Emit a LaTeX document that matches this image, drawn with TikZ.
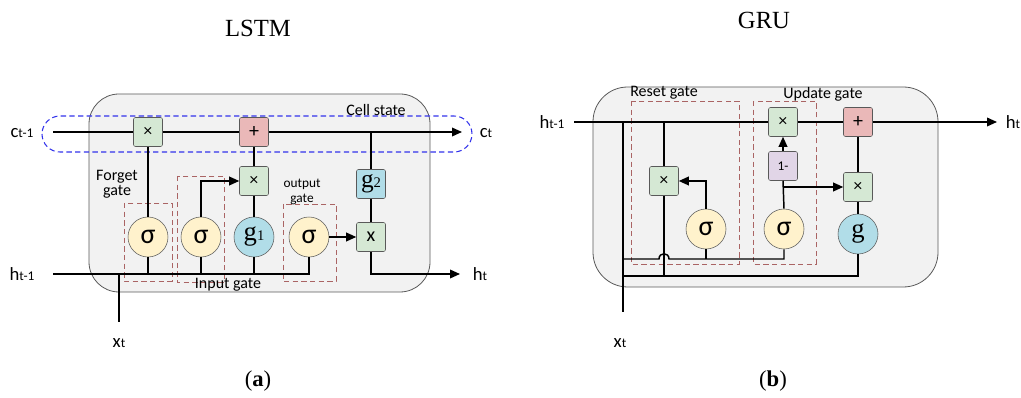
\documentclass[tikz,border=0pt]{standalone}
\usepackage{fontspec}
\setmainfont{Carlito}
\newfontfamily\seriffont{Liberation Serif}
\usepackage{xcolor}
\usepackage{tikz}
\usetikzlibrary{arrows.meta}

\definecolor{mulgreen}{RGB}{213,232,212}
\definecolor{addred}{RGB}{234,184,184}
\definecolor{actblue}{RGB}{177,221,232}
\definecolor{sigyellow}{RGB}{255,242,204}
\definecolor{negpurple}{RGB}{225,213,231}
\definecolor{cellgray}{RGB}{242,242,242}
\definecolor{gatebrown}{RGB}{170,100,100}
\definecolor{stateblue}{RGB}{50,50,235}

\newcommand{\iolbl}[2]{{\fontsize{14}{14}\selectfont #1}{\fontsize{10}{10}\selectfont #2}}

\begin{document}
\begin{tikzpicture}[x=0.75pt,y=0.75pt,yscale=-1,xscale=1,
  op/.style={draw=black!65, rounded corners=1.5pt, minimum size=21.75pt, inner sep=0pt, font=\fontsize{13}{13}\selectfont},
  mulop/.style={op, fill=mulgreen},
  addop/.style={op, fill=addred, font=\fontsize{15}{15}\selectfont},
  act/.style={circle, draw=black!65, minimum size=30pt, inner sep=0pt},
  sig/.style={act, fill=sigyellow, font=\fontsize{21}{21}\selectfont},
  tanhc/.style={act, fill=actblue, font=\seriffont\fontsize{20}{20}\selectfont},
  cellframe/.style={draw=black!65, fill=cellgray, line width=0.6pt},
  gatebox/.style={draw=gatebrown, dash pattern=on 4pt off 2.5pt, line width=0.65pt},
  flow/.style={line width=1.1pt},
  arr/.style={flow, -{Triangle[length=7.5pt,width=6.5pt]}},
  lbl/.style={inner sep=0pt, align=center, font=\fontsize{12}{11}\selectfont},
  title/.style={inner sep=0pt, font=\seriffont\fontsize{18.5}{20}\selectfont},
  caption/.style={inner sep=0pt, font=\seriffont\fontsize{17}{17}\selectfont}]

\useasboundingbox (0,0) rectangle (1021,398);

% ---------------- LSTM ----------------
\node[title] (lstm) at (258,28) {LSTM};

\draw[cellframe, rounded corners=22.5pt] (89,94) rectangle (430,292);
\draw[stateblue, dash pattern=on 4pt off 2.5pt, line width=0.8pt, rounded corners=13.5pt] (42,116) rectangle (472,152);
\draw[gatebox] (124,203) rectangle (172,281);
\draw[gatebox] (177,176) rectangle (224,282);
\draw[gatebox] (283,204) rectangle (336,281);

\node[lbl] (celllbl) at (376,110) {Cell state};
\node[lbl] (forgetlbl) at (117,184) {Forget\\gate};
\node[lbl, font=\fontsize{10}{11}\selectfont] (outlbl) at (302,192) {output\\gate};
\node[lbl] (inlbl) at (228,285) {Input gate};

\node[mulop] (fx) at (148,132) {×};
\node[addop] (add) at (254,132) {+};
\node[mulop] (ix) at (254,181) {×};
\node[op, fill=actblue, font=\seriffont\fontsize{19}{19}\selectfont] (g2) at (371,184) {g\fontsize{11}{11}\selectfont 2};
\node[mulop, font=\fontsize{15}{15}\selectfont] (ox) at (371,237) {x};

\node[sig] (sf) at (148,237) {σ};
\node[sig] (si) at (201,237) {σ};
\node[tanhc] (g1) at (254,237) {g\fontsize{11}{11}\selectfont 1};
\node[sig] (so) at (309,237) {σ};

\coordinate (cin) at (53,132);
\coordinate (cout) at (462,132);
\coordinate (hin) at (53,274);
\coordinate (hout) at (460,274);
\coordinate (xin) at (119,322);

\node[inner sep=0pt] (cinlbl) at (22,133) {\iolbl{c}{t-1}};
\node[inner sep=0pt] (coutlbl) at (486,133) {\iolbl{c}{t}};
\node[inner sep=0pt] (hinlbl) at (22,274) {\iolbl{h}{t-1}};
\node[inner sep=0pt] (houtlbl) at (480,274) {\iolbl{h}{t}};
\node[inner sep=0pt] (xinlbl) at (119,343) {\iolbl{x}{t}};

\draw[flow] (cin) -- (fx.west);
\draw[flow] (fx.east) -- (add.west);
\draw[arr] (add.east) -- (cout);
\draw[flow] (hin) -| (so.south);
\draw[flow] (sf.south) -- (sf.south |- hin);
\draw[flow] (si.south) -- (si.south |- hin);
\draw[flow] (g1.south) -- (g1.south |- hin);
\draw[flow] (xin) -- (xin |- hin);
\draw[flow] (sf.north) -- (fx.south);
\draw[arr] (si.north) |- (ix.west);
\draw[flow] (g1.north) -- (ix.south);
\draw[flow] (ix.north) -- (add.south);
\draw[arr] (so.east) -- (ox.west);
\draw[flow] (g2.north) -- (g2.north |- add);
\draw[flow] (g2.south) -- (ox.north);
\draw[arr] (ox.south) |- (hout);

\node[caption] (capa) at (258,381) {(\textbf{a})};

% ---------------- GRU ----------------
\node[title] (gru) at (764,20) {GRU};

\draw[cellframe, rounded corners=26pt] (593,87) rectangle (938,287);
\draw[gatebox] (631,101) rectangle (739,264);
\draw[gatebox] (753,101) rectangle (816,264);

\node[lbl] (resetlbl) at (664,93) {Reset gate};
\node[lbl] (updatelbl) at (823,94) {Update gate};

\node[mulop] (ux) at (783,122) {×};
\node[addop] (gadd) at (858,122) {+};
\node[op, fill=negpurple, font=\fontsize{10}{10}\selectfont] (om) at (783,166) {1-};
\node[mulop] (rx) at (664,181) {×};
\node[mulop] (gx) at (858,187) {×};

\node[sig] (sr) at (706,229) {σ};
\node[sig] (su) at (784,229) {σ};
\node[tanhc] (gc) at (858,234) {g};

\coordinate (gin) at (574,122);
\coordinate (gout) at (997,122);
\coordinate (gxin) at (623,312);

\node[inner sep=0pt] (ginlbl) at (552,122) {\iolbl{h}{t-1}};
\node[inner sep=0pt] (goutlbl) at (1013,122) {\iolbl{h}{t}};
\node[inner sep=0pt] (gxinlbl) at (620,343) {\iolbl{x}{t}};

\draw[flow] (gin) -- (ux.west);
\draw[flow] (ux.east) -- (gadd.west);
\draw[arr] (gadd.east) -- (gout);
\draw[flow] (gxin) -- (gxin |- gin);
\draw[flow] (rx.north) -- (rx.north |- gin);
\draw[flow] (rx.south) -- (664,276);
\draw[flow] (623,259) -- (659,259) .. controls (659,252) and (669,252) .. (669,259) -| (su.south);
\draw[flow] (sr.south) -- (706,259);
\draw[flow] (623,276) -| (gc.south);
\draw[arr] (sr.north) |- (rx.east);
\draw[flow] (su.north) -- (om.south);
\draw[arr] (om.south |- gx.west) -- (gx.west);
\draw[arr] (om.north) -- (ux.south);
\draw[flow] (gc.north) -- (gx.south);
\draw[flow] (gx.north) -- (gadd.south);

\node[caption] (capb) at (773,381) {(\textbf{b})};

\end{tikzpicture}
\end{document}
